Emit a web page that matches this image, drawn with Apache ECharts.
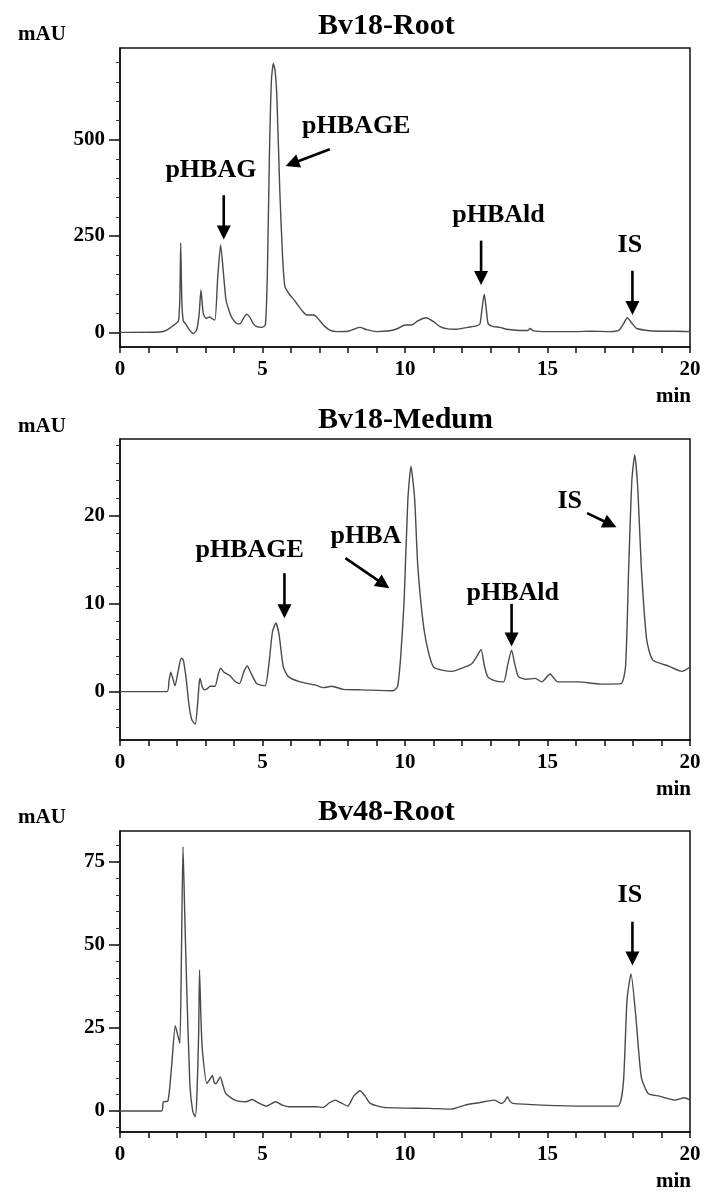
<!DOCTYPE html>
<html>
<head>
<meta charset="utf-8">
<script src="https://cdn.jsdelivr.net/npm/echarts@6/dist/echarts.min.js"></script>
<style>
  html, body { margin: 0; padding: 0; background: #fff; }
  #chart { width: 708px; height: 1200px; }
</style>
</head>
<body>
<div id="chart"></div>
<script>
// retention time (min) and absorbance (mAU)
var rootTime = [0, 1.40, 1.64, 1.93, 2.05, 2.10, 2.13, 2.17, 2.22, 2.30, 2.45, 2.57, 2.69, 2.78, 2.84, 2.92, 3.02, 3.08, 3.15, 3.22, 3.33, 3.43, 3.53, 3.63, 3.72, 3.86, 3.95, 4.09, 4.21, 4.32, 4.44, 4.55, 4.68, 4.80, 4.97, 5.10, 5.17, 5.24, 5.31, 5.38, 5.44, 5.50, 5.61, 5.71, 5.79, 5.96, 6.10, 6.20, 6.40, 6.55, 6.78, 6.90, 7.13, 7.36, 7.60, 8.00, 8.20, 8.42, 8.65, 9.00, 9.47, 9.75, 10.00, 10.23, 10.45, 10.74, 11.00, 11.23, 11.50, 11.81, 12.20, 12.51, 12.63, 12.70, 12.78, 12.86, 12.92, 13.10, 13.33, 13.57, 14.00, 14.30, 14.39, 14.50, 15.00, 16.00, 16.50, 17.20, 17.50, 17.65, 17.80, 17.95, 18.13, 18.60, 19.00, 19.50, 20];
var rootMAU = [0, 1, 6, 21, 30, 90, 232, 80, 30, 22, 5, -3, 6, 50, 110, 50, 36, 38, 40, 36, 32, 144, 227, 153, 84, 49, 35, 23, 22, 35, 47, 40, 22, 15, 13, 19, 150, 450, 650, 698, 680, 620, 361, 188, 118, 97, 85, 75, 55, 45, 45, 40, 20, 6, 2, 3, 8, 13, 7, 2, 4, 10, 19, 19, 30, 38, 28, 15, 9, 8, 13, 17, 22, 60, 99, 55, 22, 15, 13, 8, 5, 5, 10, 4, 2, 2, 3, 2, 5, 20, 38, 25, 10, 4, 3, 3, 2];

var medumTime = [0, 1.65, 1.72, 1.78, 1.85, 1.93, 2.05, 2.15, 2.22, 2.32, 2.42, 2.52, 2.64, 2.72, 2.78, 2.81, 2.88, 2.95, 3.05, 3.16, 3.33, 3.45, 3.53, 3.65, 3.86, 4.02, 4.19, 4.35, 4.47, 4.58, 4.80, 5.09, 5.22, 5.35, 5.47, 5.58, 5.73, 5.91, 6.32, 6.90, 7.13, 7.43, 7.84, 8.47, 9.58, 9.74, 9.85, 9.97, 10.10, 10.21, 10.34, 10.45, 10.69, 11.00, 11.64, 12.11, 12.35, 12.52, 12.67, 12.78, 12.90, 13.14, 13.46, 13.60, 13.74, 13.86, 13.98, 14.25, 14.57, 14.80, 15.09, 15.36, 16.07, 16.87, 17.58, 17.74, 17.85, 17.96, 18.06, 18.17, 18.29, 18.48, 18.69, 19.25, 19.72, 20];
var medumMAU = [0, 0, 1.2, 2.2, 1.5, 0.65, 2.5, 3.8, 3.6, 1.5, -1.5, -3.2, -3.7, -1.5, 1.0, 1.5, 0.6, 0.2, 0.3, 0.6, 0.6, 2.0, 2.65, 2.2, 1.8, 1.2, 0.9, 2.3, 2.9, 2.2, 0.9, 0.65, 3.0, 6.8, 7.8, 6.5, 2.8, 1.7, 1.1, 0.7, 0.45, 0.6, 0.25, 0.2, 0.1, 0.6, 4, 10.4, 21.8, 25.6, 21.8, 14.2, 6.6, 2.8, 2.3, 2.8, 3.2, 4.0, 4.8, 3.0, 1.7, 1.25, 1.1, 3.0, 4.7, 3.0, 1.7, 1.4, 1.5, 1.1, 2.0, 1.1, 1.1, 0.85, 0.9, 2.9, 14.2, 24, 26.9, 23, 14.2, 5.9, 3.6, 2.9, 2.3, 2.8];

var root48Time = [0, 1.46, 1.52, 1.68, 1.81, 1.94, 2.02, 2.10, 2.16, 2.21, 2.27, 2.32, 2.45, 2.55, 2.64, 2.70, 2.76, 2.79, 2.84, 2.89, 3.05, 3.15, 3.24, 3.32, 3.37, 3.52, 3.62, 3.71, 4.03, 4.42, 4.63, 4.85, 5.14, 5.46, 5.70, 5.93, 6.88, 7.12, 7.35, 7.55, 7.75, 7.99, 8.20, 8.42, 8.60, 8.78, 9.26, 10.84, 11.63, 12.11, 12.59, 13.14, 13.38, 13.50, 13.59, 13.68, 13.78, 14.81, 16.39, 17.47, 17.66, 17.79, 17.93, 18.10, 18.29, 18.53, 18.93, 19.48, 19.80, 20];
var root48MAU = [0, 0, 2.8, 3.0, 13.4, 25.7, 23, 20.4, 50, 79.6, 60, 43.5, 8.3, 0, -1.7, 5, 23.4, 42.5, 28, 18.4, 8.3, 9.5, 10.7, 8.3, 8.3, 10.3, 7.5, 5.3, 3.3, 2.8, 3.5, 2.5, 1.5, 2.8, 1.8, 1.3, 1.3, 1.1, 2.5, 3.3, 2.5, 1.5, 4.5, 6.1, 4.5, 2.3, 1.1, 0.8, 0.6, 1.8, 2.5, 3.3, 2.3, 3.0, 4.3, 3.0, 2.3, 1.8, 1.5, 1.5, 8.3, 33.4, 41.3, 28.4, 10.3, 5.3, 4.5, 3.3, 4.0, 3.3];

var panelTitles = ['Bv18-Root', 'Bv18-Medum', 'Bv48-Root'];

// axis ranges and ticks
var xTickLabels = [0, 5, 10, 15, 20];
var rootRange = [-38, 738];
var rootYLabels = [0, 250, 500];
var rootYTicks = [0, 50, 100, 150, 200, 250, 300, 350, 400, 450, 500, 550, 600, 650, 700];
var medumRange = [-5.5, 28.7];
var medumYLabels = [0, 10, 20];
var medumYTicks = [-4, -2, 0, 2, 4, 6, 8, 10, 12, 14, 16, 18, 20, 22, 24, 26, 28];
var root48Range = [-6.3, 84.3];
var root48YLabels = [0, 25, 50, 75];
var root48YTicks = [-5, 0, 5, 10, 15, 20, 25, 30, 35, 40, 45, 50, 55, 60, 65, 70, 75, 80];

// peak labels: [text, time, mAU]; arrows: [fromTime, fromMAU, tipTime, tipMAU]
var rootNames = [['pHBAG', 3.19, 421], ['pHBAGE', 8.29, 534], ['pHBAld', 13.28, 304], ['IS', 17.89, 227]];
var rootArrows = [[3.64, 356, 3.64, 241], [7.36, 475, 5.81, 432], [12.67, 238, 12.67, 123], [17.98, 160, 17.98, 45]];
var medumNames = [['pHBAGE', 4.55, 16.1], ['pHBA', 8.63, 17.6], ['pHBAld', 13.78, 11.2], ['IS', 15.78, 21.6]];
var medumArrows = [[5.77, 13.45, 5.77, 8.34], [7.91, 15.16, 9.45, 11.75], [13.74, 9.97, 13.74, 5.11], [16.39, 20.27, 17.42, 18.68]];
var root48Names = [['IS', 17.89, 65]];
var root48Arrows = [[17.98, 57, 17.98, 43.8]];

var SERIF = '"Liberation Serif", "Times New Roman", serif';

function pairs(t, v) {
  return t.map(function (x, i) { return [x, v[i]]; });
}

var panels = [
  { time: rootTime, mau: rootMAU, range: rootRange, labels: rootYLabels, ticks: rootYTicks, names: rootNames, arrows: rootArrows, top: 48, height: 299 },
  { time: medumTime, mau: medumMAU, range: medumRange, labels: medumYLabels, ticks: medumYTicks, names: medumNames, arrows: medumArrows, top: 439, height: 301 },
  { time: root48Time, mau: root48MAU, range: root48Range, labels: root48YLabels, ticks: root48YTicks, names: root48Names, arrows: root48Arrows, top: 831, height: 301 }
];

var chart = echarts.init(document.getElementById('chart'), null, { renderer: 'canvas', width: 708, height: 1200 });

var grids = [], xAxes = [], yAxes = [], series = [], graphics = [];

panels.forEach(function (p, i) {
  grids.push({
    left: 120, width: 570, top: p.top, height: p.height,
    show: true, borderColor: '#111', borderWidth: 1.5, backgroundColor: 'transparent',
    containLabel: false, outerBoundsMode: 'none'
  });
  xAxes.push({
    type: 'value', gridIndex: i, min: 0, max: 20, interval: 1,
    axisLine: { show: true, onZero: false, lineStyle: { color: '#111', width: 1.5 } },
    axisTick: { show: true, length: 6, lineStyle: { color: '#111', width: 1.5 } },
    axisLabel: { customValues: xTickLabels, margin: 12, color: '#000', fontSize: 21, fontWeight: 'bold', fontFamily: SERIF },
    splitLine: { show: false }
  });
  // labelled axis with long ticks
  yAxes.push({
    type: 'value', gridIndex: i, position: 'left', min: p.range[0], max: p.range[1],
    axisLine: { show: true, onZero: false, lineStyle: { color: '#111', width: 1.5 } },
    axisTick: { show: true, customValues: p.labels, length: 11, lineStyle: { color: '#111', width: 1.5 } },
    axisLabel: { customValues: p.labels, margin: 15, color: '#000', fontSize: 21, fontWeight: 'bold', fontFamily: SERIF },
    splitLine: { show: false }
  });
  // minor ticks
  yAxes.push({
    type: 'value', gridIndex: i, position: 'left', min: p.range[0], max: p.range[1],
    axisLine: { show: false },
    axisTick: { show: true, customValues: p.ticks, length: 4, lineStyle: { color: '#333', width: 1 } },
    axisLabel: { show: false },
    splitLine: { show: false }
  });

  series.push({
    type: 'line', xAxisIndex: i, yAxisIndex: i * 2,
    data: pairs(p.time, p.mau),
    showSymbol: false, smooth: 0.2,
    lineStyle: { color: '#4a4a4a', width: 1.4 },
    silent: true,
    markPoint: {
      silent: true,
      symbol: 'circle', symbolSize: 1,
      itemStyle: { color: 'rgba(0,0,0,0)' },
      label: { show: true, position: 'inside', color: '#000', fontSize: 26, fontWeight: 'bold', fontFamily: SERIF, formatter: '{b}' },
      data: p.names.map(function (n) { return { name: n[0], coord: [n[1], n[2]] }; })
    }
  });

  graphics.push({ type: 'text', x: 318, y: [26, 420, 812][i], style: { text: panelTitles[i], font: 'bold 30px ' + SERIF, fill: '#000', align: 'left', verticalAlign: 'middle' } });
  graphics.push({ type: 'text', x: 18, y: [35, 427, 818][i], style: { text: 'mAU', font: 'bold 21px ' + SERIF, fill: '#000', align: 'left', verticalAlign: 'middle' } });
  graphics.push({ type: 'text', x: 691, y: p.top + p.height + 50, style: { text: 'min', font: 'bold 21px ' + SERIF, fill: '#000', align: 'right', verticalAlign: 'middle' } });
});

var option = {
  animation: false,
  backgroundColor: '#fff',
  grid: grids,
  xAxis: xAxes,
  yAxis: yAxes,
  series: series,
  graphic: graphics
};

chart.setOption(option);

// arrows: placed through the axes, head drawn as a filled triangle
var arrowGraphics = [];
panels.forEach(function (p, i) {
  p.arrows.forEach(function (a) {
    var from = chart.convertToPixel({ xAxisIndex: i, yAxisIndex: i * 2 }, [a[0], a[1]]);
    var tip = chart.convertToPixel({ xAxisIndex: i, yAxisIndex: i * 2 }, [a[2], a[3]]);
    var dx = tip[0] - from[0], dy = tip[1] - from[1];
    var len = Math.sqrt(dx * dx + dy * dy);
    var ux = dx / len, uy = dy / len;
    var headLen = 14, headHalf = 7;
    var bx = tip[0] - ux * headLen, by = tip[1] - uy * headLen;
    arrowGraphics.push({
      type: 'line', silent: true,
      shape: { x1: from[0], y1: from[1], x2: bx + ux * 2, y2: by + uy * 2 },
      style: { stroke: '#000', lineWidth: 2.6 }
    });
    arrowGraphics.push({
      type: 'polygon', silent: true,
      shape: { points: [[tip[0], tip[1]], [bx - uy * headHalf, by + ux * headHalf], [bx + uy * headHalf, by - ux * headHalf]] },
      style: { fill: '#000' }
    });
  });
});

chart.setOption({ graphic: graphics.concat(arrowGraphics) });
</script>
</body>
</html>
